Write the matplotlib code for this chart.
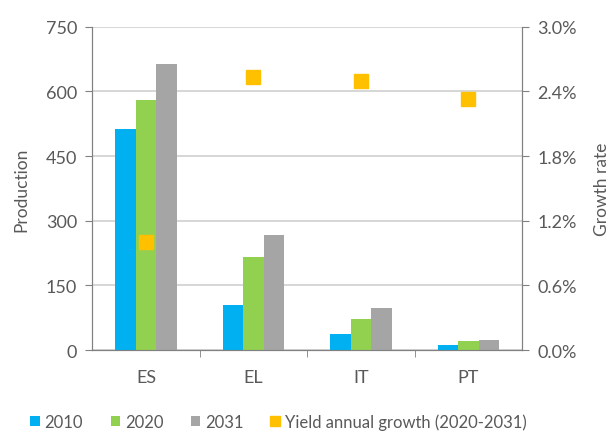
import numpy as np
import matplotlib.pyplot as plt
from matplotlib.ticker import FuncFormatter

plt.rcParams['font.family'] = ['Lato', 'DejaVu Sans']

countries = ["ES", "EL", "IT", "PT"]
prod_2010 = [514, 105, 38, 11]
prod_2020 = [580, 215, 72, 21]
prod_2031 = [663, 268, 97, 24]
yield_growth = [1.00, 2.53, 2.50, 2.33]  # %

txt = "#595959"
fs = 13
x = np.arange(len(countries))
w = 0.19

fig = plt.figure(figsize=(6.15, 4.35), dpi=100)
ax = fig.add_axes([0.15, 0.193, 0.699, 0.743])
ax2 = ax.twinx()

ax.bar(x - w, prod_2010, w, color="#00B0F0", label="2010", zorder=3)
ax.bar(x, prod_2020, w, color="#92D050", label="2020", zorder=3)
ax.bar(x + w, prod_2031, w, color="#A5A5A5", label="2031", zorder=3)
ax2.plot(x, yield_growth, ls="none", marker="s", ms=10, color="#FFC000",
         label="Yield annual growth (2020-2031)")

ax.set_xlim(-0.5, 3.5)
ax.set_ylim(0, 750)
ax.set_yticks(np.arange(0, 751, 150))
ax2.set_ylim(0, 3.0)
ax2.set_yticks(np.arange(0, 3.01, 0.6))
ax2.yaxis.set_major_formatter(FuncFormatter(lambda v, p: f"{v:.1f}%"))
ax.grid(axis="y", color="#D0D0D0", lw=1.2, zorder=0)

ax.set_xticks(x)
ax.set_xticklabels(countries)
ax.set_xticks(np.arange(0.5, 3.5, 1), minor=True)

for a in (ax, ax2):
    a.spines["top"].set_visible(False)
    for s in ("left", "right", "bottom"):
        a.spines[s].set_color("#808080")
    a.tick_params(labelcolor=txt, labelsize=fs)
ax.tick_params(axis="y", color="#808080", length=5, pad=6)
ax2.tick_params(axis="y", color="#808080", length=5, pad=6)
ax.tick_params(axis="x", which="major", length=0, pad=14)
ax.tick_params(axis="x", which="minor", length=5, color="#808080")

ax.set_ylabel("Production", color=txt, fontsize=12.5, labelpad=12)
ax2.set_ylabel("Growth rate", color=txt, fontsize=12.5, labelpad=12)

h1, l1 = ax.get_legend_handles_labels()
h2, l2 = ax2.get_legend_handles_labels()
fig.legend(h1 + h2, l1 + l2, loc="lower left", bbox_to_anchor=(0.025, -0.025),
           ncol=4, frameon=False, fontsize=12, handlelength=0.55, handleheight=0.55,
           columnspacing=1.65, handletextpad=0.3, labelcolor=txt, markerscale=0.75)

fig.savefig("out.png", dpi=100)
